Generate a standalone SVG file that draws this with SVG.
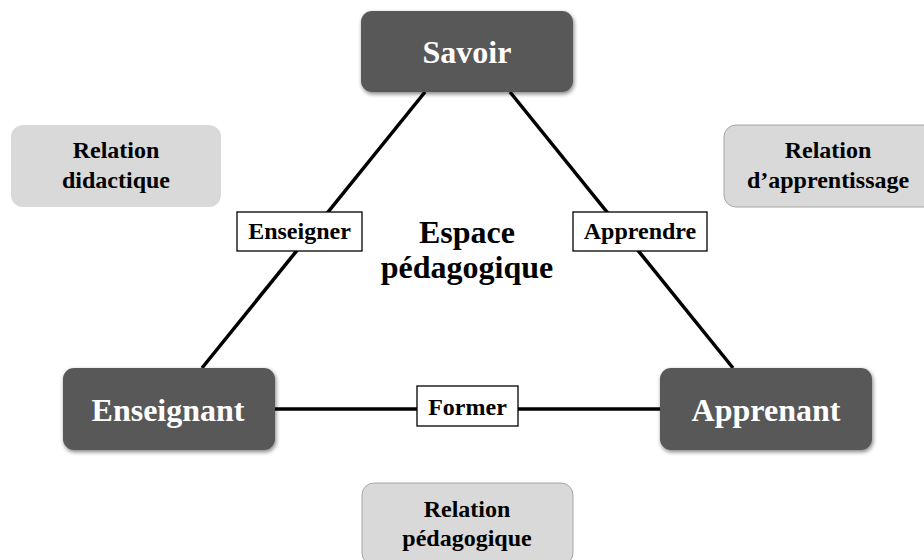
<svg xmlns="http://www.w3.org/2000/svg" width="924" height="560" viewBox="0 0 924 560">
<defs>
<filter id="sh" x="-10%" y="-10%" width="125%" height="130%">
<feGaussianBlur in="SourceAlpha" stdDeviation="2"/>
<feOffset dx="1" dy="2" result="b"/>
<feComponentTransfer><feFuncA type="linear" slope="0.5"/></feComponentTransfer>
<feMerge><feMergeNode/><feMergeNode in="SourceGraphic"/></feMerge>
</filter>
</defs>
<style>
text{font-family:"Liberation Serif","Times New Roman",serif;font-weight:bold;text-anchor:middle}
.main{fill:#595959}
.main-t{fill:#ffffff;font-size:32px}
.rel{fill:#d9d9d9}
.rel-b{stroke:#a6a6a6;stroke-width:1}
.rel-t{fill:#000;font-size:24px}
.lab{fill:#fff;stroke:#000;stroke-width:1.3}
.lab-t{fill:#000;font-size:24px}
.ln{stroke:#000;stroke-width:3.5;fill:none}
</style>
<g id="connectors">
<line class="ln" x1="425" y1="92" x2="202" y2="368"/>
<line class="ln" x1="510" y1="92" x2="733" y2="368"/>
<line class="ln" x1="275" y1="409" x2="660" y2="409"/>
</g>
<g id="savoir"><rect class="main" x="361" y="11" width="212" height="81" rx="11" filter="url(#sh)"/><text class="main-t" x="467" y="63">Savoir</text></g>
<g id="enseignant"><rect class="main" x="63" y="368" width="212" height="82" rx="11" filter="url(#sh)"/><text class="main-t" x="168" y="421">Enseignant</text></g>
<g id="apprenant"><rect class="main" x="660" y="368" width="212" height="82" rx="11" filter="url(#sh)"/><text class="main-t" x="766" y="421">Apprenant</text></g>
<g id="rel-didactique"><rect class="rel" x="11" y="125" width="210" height="82" rx="12"/><text class="rel-t" x="116" y="158">Relation</text><text class="rel-t" x="116" y="188">didactique</text></g>
<g id="rel-apprentissage"><rect class="rel rel-b" x="724" y="125" width="212" height="82" rx="12"/><text class="rel-t" x="828" y="158">Relation</text><text class="rel-t" x="828" y="188">d’apprentissage</text></g>
<g id="rel-pedagogique"><rect class="rel rel-b" x="362" y="483" width="211" height="82" rx="12"/><text class="rel-t" x="467" y="517">Relation</text><text class="rel-t" x="467" y="546">pédagogique</text></g>
<g id="enseigner"><rect class="lab" x="237" y="212" width="125" height="39"/><text class="lab-t" x="299.500" y="239">Enseigner</text></g>
<g id="apprendre"><rect class="lab" x="573" y="212" width="134" height="39"/><text class="lab-t" x="640" y="239">Apprendre</text></g>
<g id="former"><rect class="lab" x="417" y="386" width="101" height="40"/><text class="lab-t" x="467.500" y="415">Former</text></g>
<g id="espace"><text x="467" y="243" style="font-size:32px;fill:#000">Espace</text><text x="467" y="278" style="font-size:32px;fill:#000">pédagogique</text></g>
</svg>
